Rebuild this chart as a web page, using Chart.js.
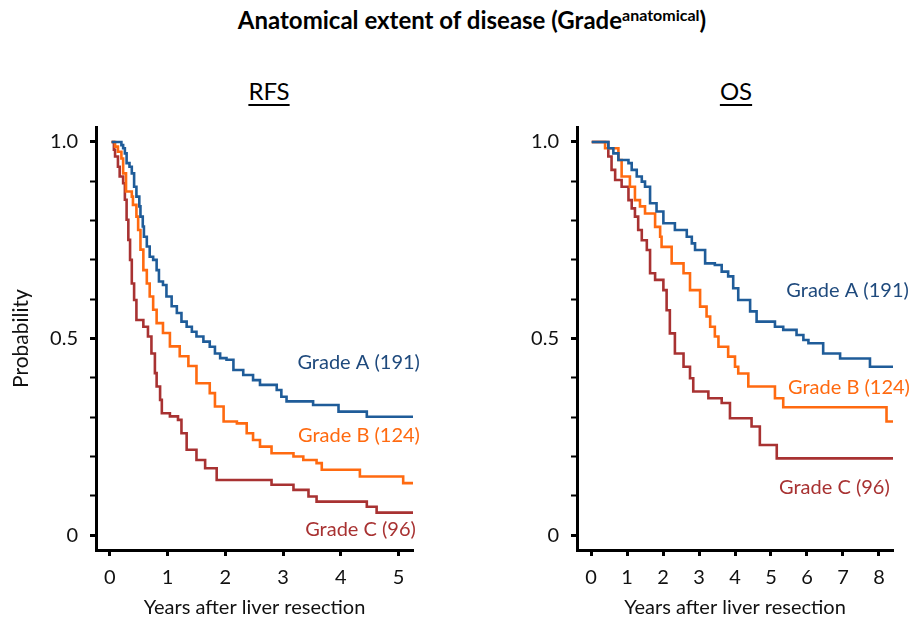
<!DOCTYPE html>
<html>
<head>
<meta charset="utf-8">
<script src="https://cdn.jsdelivr.net/npm/chart.js@4"></script>
<style>
  body { margin: 0; width: 910px; height: 620px; background: #fff; position: relative; overflow: hidden; font-family: Lato, "Open Sans", sans-serif; }
  .box { position: absolute; }
  #title { left: 0; width: 944px; top: 5px; text-align: center; font-weight: bold; font-size: 24px; color: #000; }
  #title sup { font-size: 16px; vertical-align: 8px; font-weight: bold; }
  .sub { top: 76px; width: 200px; text-align: center; font-size: 24px; text-decoration: underline; text-underline-offset: 4px; color: #000; }
</style>
</head>
<body>
<div id="title" class="box">Anatomical extent of disease (Grade<sup>anatomical</sup>)</div>
<div class="box sub" style="left:169px">RFS</div>
<div class="box sub" style="left:636px">OS</div>
<div class="box" style="left:0;top:100px"><canvas id="rfsChart" width="440" height="520"></canvas></div>
<div class="box" style="left:470px;top:100px"><canvas id="osChart" width="440" height="520"></canvas></div>
<script>
// Kaplan-Meier curves (years, survival probability)
const rfsTimeA = [0.03, 0.16, 0.20, 0.23, 0.26, 0.29, 0.34, 0.38, 0.42, 0.46, 0.51, 0.53, 0.57, 0.59, 0.64, 0.69, 0.75, 0.81, 0.85, 0.92, 0.98, 1.07, 1.16, 1.24, 1.33, 1.42, 1.50, 1.62, 1.73, 1.82, 1.91, 2.02, 2.14, 2.31, 2.48, 2.60, 2.89, 2.97, 3.06, 3.52, 3.96, 4.45, 5.25];
const rfsSurvA = [1.0, 1.0, 0.992, 0.984, 0.971, 0.946, 0.937, 0.92, 0.886, 0.861, 0.836, 0.81, 0.785, 0.759, 0.734, 0.708, 0.70, 0.674, 0.645, 0.636, 0.607, 0.582, 0.565, 0.543, 0.53, 0.517, 0.505, 0.492, 0.479, 0.462, 0.45, 0.446, 0.42, 0.407, 0.394, 0.382, 0.369, 0.352, 0.34, 0.331, 0.314, 0.301, 0.301];

const rfsTimeB = [0.03, 0.09, 0.14, 0.20, 0.23, 0.28, 0.38, 0.40, 0.46, 0.49, 0.53, 0.58, 0.64, 0.69, 0.75, 0.81, 0.92, 1.04, 1.21, 1.36, 1.50, 1.73, 1.82, 1.97, 2.20, 2.37, 2.48, 2.60, 2.80, 3.18, 3.35, 3.58, 3.67, 4.33, 5.08, 5.25];
const rfsSurvB = [1.0, 0.988, 0.975, 0.958, 0.92, 0.874, 0.861, 0.84, 0.81, 0.776, 0.726, 0.674, 0.64, 0.607, 0.573, 0.539, 0.514, 0.48, 0.455, 0.43, 0.386, 0.361, 0.327, 0.289, 0.284, 0.259, 0.242, 0.225, 0.208, 0.20, 0.191, 0.183, 0.166, 0.149, 0.132, 0.132];

const rfsTimeC = [0.03, 0.07, 0.09, 0.14, 0.17, 0.23, 0.26, 0.29, 0.32, 0.35, 0.38, 0.42, 0.46, 0.58, 0.66, 0.72, 0.78, 0.81, 0.87, 0.90, 1.04, 1.18, 1.24, 1.33, 1.50, 1.65, 1.85, 2.80, 3.18, 3.44, 3.58, 4.45, 4.62, 5.25];
const rfsSurvC = [1.0, 0.98, 0.963, 0.937, 0.912, 0.895, 0.853, 0.802, 0.751, 0.70, 0.64, 0.598, 0.547, 0.53, 0.505, 0.462, 0.412, 0.378, 0.344, 0.31, 0.302, 0.293, 0.259, 0.217, 0.191, 0.17, 0.14, 0.128, 0.115, 0.098, 0.085, 0.072, 0.057, 0.057];

const osTimeA = [0.02, 0.39, 0.48, 0.62, 0.76, 1.04, 1.13, 1.27, 1.41, 1.50, 1.64, 1.82, 2.01, 2.33, 2.66, 2.80, 2.89, 3.17, 3.44, 3.63, 3.81, 3.95, 4.09, 4.42, 4.60, 5.11, 5.34, 5.71, 5.90, 6.04, 6.45, 6.92, 7.75, 8.39];
const osSurvA = [1.0, 1.0, 0.984, 0.971, 0.954, 0.946, 0.929, 0.912, 0.899, 0.886, 0.844, 0.823, 0.793, 0.776, 0.759, 0.742, 0.725, 0.691, 0.687, 0.67, 0.658, 0.628, 0.598, 0.569, 0.543, 0.53, 0.522, 0.509, 0.496, 0.488, 0.462, 0.449, 0.428, 0.428];

const osTimeB = [0.02, 0.39, 0.76, 0.85, 1.08, 1.22, 1.36, 1.50, 1.78, 1.92, 1.96, 2.24, 2.57, 2.75, 3.03, 3.21, 3.31, 3.44, 3.54, 3.81, 4.00, 4.09, 4.37, 5.11, 5.34, 8.21, 8.39];
const osSurvB = [1.0, 0.984, 0.954, 0.912, 0.886, 0.852, 0.836, 0.818, 0.784, 0.759, 0.733, 0.691, 0.666, 0.623, 0.581, 0.556, 0.53, 0.505, 0.479, 0.454, 0.428, 0.411, 0.378, 0.348, 0.325, 0.289, 0.289];

const osTimeC = [0.02, 0.39, 0.48, 0.57, 0.67, 0.85, 1.04, 1.13, 1.22, 1.31, 1.41, 1.55, 1.64, 1.78, 2.01, 2.10, 2.19, 2.33, 2.57, 2.75, 2.84, 3.26, 3.63, 3.86, 4.46, 4.69, 5.16, 8.39];
const osSurvC = [1.0, 1.0, 0.963, 0.929, 0.903, 0.886, 0.852, 0.831, 0.81, 0.776, 0.75, 0.725, 0.666, 0.649, 0.623, 0.572, 0.513, 0.462, 0.428, 0.399, 0.365, 0.348, 0.336, 0.297, 0.276, 0.229, 0.195, 0.195];

const groupNames = ['Grade A (191)', 'Grade B (124)', 'Grade C (96)'];
const lineColors = ['#1f5c99', '#ff6a10', '#a83232'];
const textColors = ['#1f4a7d', '#ff6a10', '#a83232'];

const fontFamily = 'Lato, "Open Sans", sans-serif';

function toPoints(times, surv) {
    return times.map((t, i) => ({ x: t, y: surv[i] }));
}

function makeDatasets(curves) {
    return curves.map((c, i) => ({
        label: groupNames[i],
        data: toPoints(c[0], c[1]),
        borderColor: lineColors[i],
        borderWidth: 2.6,
        pointRadius: 0,
        stepped: true,
        fill: false
    }));
}

// draws the group names next to the curves, anchored in data units
const groupLabels = {
    id: 'groupLabels',
    afterDatasetsDraw(chart, args, opts) {
        const c = chart.ctx;
        c.save();
        c.font = '20px ' + fontFamily;
        c.textAlign = 'right';
        c.textBaseline = 'middle';
        opts.spots.forEach((s, i) => {
            c.fillStyle = textColors[i];
            c.fillText(groupNames[i], chart.scales.x.getPixelForValue(s[0]), chart.scales.y.getPixelForValue(s[1]));
        });
        c.restore();
    }
};

function makeChart(id, curves, xMin, xMax, yWidth, padRight, spots, showYTitle) {
    return new Chart(document.getElementById(id), {
        type: 'line',
        data: { datasets: makeDatasets(curves) },
        plugins: [groupLabels],
        options: {
            responsive: false,
            animation: false,
            layout: { padding: { top: 27, right: padRight, left: 0, bottom: 0 } },
            scales: {
                x: {
                    type: 'linear',
                    min: xMin,
                    max: xMax,
                    border: { color: '#000', width: 3 },
                    grid: { drawOnChartArea: false, drawTicks: true, tickLength: 6, tickColor: '#000', tickWidth: 3 },
                    ticks: { stepSize: 1, includeBounds: false, padding: 10, color: '#111', font: { family: fontFamily, size: 20 } },
                    title: { display: true, text: 'Years after liver resection', color: '#111', padding: { top: 0, bottom: 0 }, font: { family: fontFamily, size: 20 } },
                    afterFit(scale) { scale.height = 70; }
                },
                y: {
                    type: 'linear',
                    min: -0.038,
                    max: 1.038,
                    border: { color: '#000', width: 3 },
                    grid: {
                        drawOnChartArea: false, drawTicks: true, tickLength: 6, tickColor: '#000',
                        tickWidth: ctx => (Math.abs(ctx.tick.value * 2 - Math.round(ctx.tick.value * 2)) < 1e-6 ? 3 : 2)
                    },
                    ticks: {
                        stepSize: 0.1,
                        includeBounds: false,
                        padding: 12,
                        color: '#111',
                        font: { family: fontFamily, size: 20 },
                        callback: v => {
                            if (Math.abs(v) < 1e-6) return '0';
                            if (Math.abs(v - 0.5) < 1e-6) return '0.5';
                            if (Math.abs(v - 1) < 1e-6) return '1.0';
                            return '';
                        }
                    },
                    title: { display: showYTitle, text: 'Probability', color: '#111', padding: { top: 9, bottom: 0 }, font: { family: fontFamily, size: 21 } },
                    afterFit(scale) { scale.width = yWidth; }
                }
            },
            plugins: {
                legend: { display: false },
                tooltip: { enabled: false },
                groupLabels: { spots: spots }
            }
        }
    });
}

makeChart('rfsChart',
    [[rfsTimeA, rfsSurvA], [rfsTimeB, rfsSurvB], [rfsTimeC, rfsSurvC]],
    -0.24, 5.25, 96, 27,
    [[5.37, 0.44], [5.37, 0.254], [5.3, 0.013]], true);

makeChart('osChart',
    [[osTimeA, osSurvA], [osTimeB, osSurvB], [osTimeC, osSurvC]],
    -0.39, 8.39, 107, 17,
    [[8.83, 0.623], [8.86, 0.374], [8.3, 0.12]], false);
</script>
</body>
</html>
